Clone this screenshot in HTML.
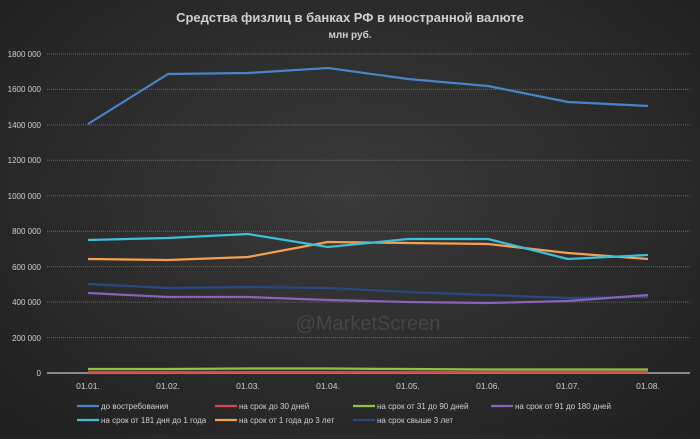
<!DOCTYPE html>
<html><head><meta charset="utf-8"><style>
body{margin:0;width:700px;height:434px;overflow:hidden;background:radial-gradient(ellipse at 50% 45%,#3a3a3a 0%,#2a2a2a 60%,#1f1f1f 100%);font-family:"Liberation Sans",sans-serif;}
</style></head><body>
<svg width="700" height="434" xmlns="http://www.w3.org/2000/svg" font-family="Liberation Sans, sans-serif">
<text x="350" y="22" fill="#d0d0d0" font-size="13" text-anchor="middle" font-weight="bold">Средства физлиц в банках РФ в иностранной валюте</text>
<text x="350" y="38" fill="#d0d0d0" font-size="10" text-anchor="middle" font-weight="bold">млн руб.</text>
<g stroke="#666" stroke-dasharray="1,1" stroke-width="1">
<line x1="47" x2="690" y1="54" y2="54"/><line x1="47" x2="690" y1="89.4" y2="89.4"/><line x1="47" x2="690" y1="124.9" y2="124.9"/><line x1="47" x2="690" y1="160.3" y2="160.3"/><line x1="47" x2="690" y1="195.8" y2="195.8"/><line x1="47" x2="690" y1="231.2" y2="231.2"/><line x1="47" x2="690" y1="266.6" y2="266.6"/><line x1="47" x2="690" y1="302.1" y2="302.1"/><line x1="47" x2="690" y1="337.5" y2="337.5"/>
</g>
<line x1="47" x2="690" y1="373" y2="373" stroke="#aaa" stroke-width="1.5"/>
<g fill="#cfcfcf" font-size="8" text-anchor="end">
<text x="41" y="57">1800 000</text><text x="41" y="92">1600 000</text><text x="41" y="128">1400 000</text><text x="41" y="163">1200 000</text><text x="41" y="199">1000 000</text><text x="41" y="234">800 000</text><text x="41" y="270">600 000</text><text x="41" y="305">400 000</text><text x="41" y="341">200 000</text><text x="41" y="376">0</text>
</g>
<g fill="#cfcfcf" font-size="8.5" text-anchor="middle">
<text x="88" y="389">01.01.</text><text x="168" y="389">01.02.</text><text x="248" y="389">01.03.</text><text x="328" y="389">01.04.</text><text x="408" y="389">01.05.</text><text x="488" y="389">01.06.</text><text x="568" y="389">01.07.</text><text x="648" y="389">01.08.</text>
</g>
<text x="368" y="330" fill="#555" font-size="20" text-anchor="middle" opacity="0.6">@MarketScreen</text>
<g fill="none" stroke-width="2.2" stroke-linejoin="round">
<polyline stroke="#4a84c8" points="88,124 168,74 248,73 328,68 408,79 488,86 568,102 648,106"/>
<polyline stroke="#264a80" points="88,284 168,288 248,287 328,288 408,292 488,295 568,298 648,297"/>
<polyline stroke="#8a63b8" points="88,293 168,297 248,297 328,300 408,302 488,303 568,301 648,295"/>
<polyline stroke="#f5a050" points="88,259 168,260 248,257 328,242 408,243 488,244 568,253 648,259"/>
<polyline stroke="#3cbfd8" points="88,240 168,238 248,234 328,247 408,239 488,239 568,259 648,255"/>
<polyline stroke="#8fc440" points="88,369 168,369 248,368.5 328,368.5 408,369 488,369.5 568,369.5 648,369.5"/>
<polyline stroke="#d84848" points="88,372 168,372 248,372 328,372 408,372 488,372 568,372 648,372"/>
</g>
<g font-size="8" fill="#cfcfcf" stroke-width="2.2">
<line x1="77" x2="99" y1="406" y2="406" stroke="#4a84c8"/><text x="101" y="409">до востребования</text>
<line x1="215" x2="237" y1="406" y2="406" stroke="#d84848"/><text x="239" y="409">на срок до 30 дней</text>
<line x1="353" x2="375" y1="406" y2="406" stroke="#8fc440"/><text x="377" y="409">на срок от 31 до 90 дней</text>
<line x1="491" x2="513" y1="406" y2="406" stroke="#8a63b8"/><text x="515" y="409">на срок от 91 до 180 дней</text>
<line x1="77" x2="99" y1="420" y2="420" stroke="#3cbfd8"/><text x="101" y="423">на срок от 181 дня до 1 года</text>
<line x1="215" x2="237" y1="420" y2="420" stroke="#f5a050"/><text x="239" y="423">на срок от 1 года до 3 лет</text>
<line x1="353" x2="375" y1="420" y2="420" stroke="#264a80"/><text x="377" y="423">на срок свыше 3 лет</text>
</g>
</svg>
</body></html>
